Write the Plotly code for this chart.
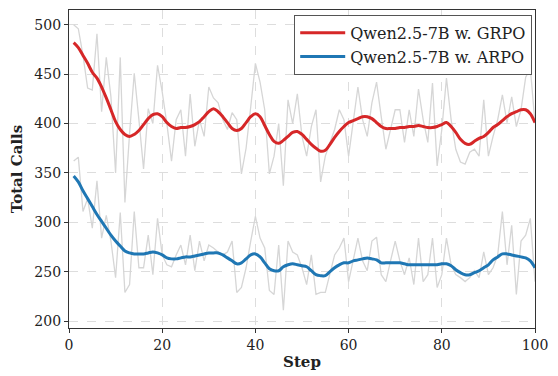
import plotly.graph_objects as go

steps = list(range(1, 101))

grpo_raw = [500, 496, 469, 436, 434, 491, 412, 467, 427, 350,
            467, 320, 390, 451, 404, 354, 415, 400, 459, 432,
            400, 362, 404, 414, 367, 430, 377, 404, 387, 437,
            426, 421, 404, 394, 411, 404, 349, 375, 417, 461,
            442, 414, 349, 367, 400, 337, 424, 400, 430, 387,
            367, 397, 414, 341, 367, 381, 394, 414, 404, 367,
            404, 437, 404, 387, 421, 442, 407, 374, 394, 414,
            414, 381, 414, 387, 435, 404, 381, 441, 357, 394,
            446, 404, 374, 361, 359, 371, 374, 367, 424, 367,
            387, 404, 429, 401, 427, 397, 414, 447, 456, 400]

arpo_raw = [362, 366, 311, 324, 294, 342, 284, 307, 281, 244,
            310, 229, 237, 311, 254, 254, 287, 247, 304, 267,
            257, 255, 267, 277, 257, 287, 251, 281, 261, 277,
            274, 270, 267, 270, 281, 229, 234, 254, 281, 306,
            284, 274, 231, 227, 277, 211, 281, 270, 267, 254,
            237, 267, 227, 229, 229, 247, 267, 274, 284, 240,
            261, 284, 261, 251, 281, 285, 247, 240, 261, 281,
            261, 247, 264, 237, 284, 240, 247, 284, 234, 247,
            284, 257, 247, 244, 240, 244, 251, 244, 270, 247,
            254, 267, 311, 257, 297, 227, 281, 287, 304, 240]

grpo_smooth = [482, 477, 469, 461, 452, 446, 437, 426, 414, 402,
               394, 389, 387, 389, 393, 399, 405, 409, 410, 407,
               401, 397, 395, 396, 396, 397, 399, 402, 407, 412,
               415, 412, 407, 401, 395, 393, 395, 401, 407, 410,
               407, 398, 389, 382, 380, 383, 387, 391, 392, 389,
               384, 379, 375, 372, 373, 379, 386, 392, 397, 401,
               403, 405, 407, 407, 405, 401, 397, 395, 395, 395,
               396, 396, 397, 397, 398, 397, 396, 396, 397, 399,
               401, 397, 391, 384, 380, 379, 382, 385, 387, 391,
               396, 399, 403, 407, 410, 412, 414, 414, 410, 401]

arpo_smooth = [347, 341, 332, 324, 316, 308, 301, 294, 287, 281,
               276, 271, 269, 268, 268, 268, 269, 270, 269, 267,
               264, 263, 263, 264, 265, 265, 266, 267, 268, 269,
               269, 269, 267, 264, 261, 258, 259, 263, 267, 268,
               265, 259, 253, 251, 251, 255, 257, 258, 257, 256,
               255, 251, 247, 246, 246, 250, 254, 257, 259, 259,
               261, 262, 263, 264, 263, 262, 259, 259, 259, 259,
               259, 258, 257, 257, 257, 257, 257, 257, 257, 258,
               258, 256, 252, 249, 247, 247, 249, 251, 254, 257,
               262, 265, 268, 268, 267, 266, 265, 264, 261, 254]

x_ticks = [0, 20, 40, 60, 80, 100]
y_ticks = [200, 250, 300, 350, 400, 450, 500]

RED = "#d62728"
BLUE = "#1f77b4"
GRAY = "#d6d6d6"
FONT = "DejaVu Serif"

fig = go.Figure()
fig.add_trace(go.Scatter(x=steps, y=grpo_raw, mode="lines",
                         line=dict(color=GRAY, width=1.3), showlegend=False, hoverinfo="skip"))
fig.add_trace(go.Scatter(x=steps, y=arpo_raw, mode="lines",
                         line=dict(color=GRAY, width=1.3), showlegend=False, hoverinfo="skip"))
fig.add_trace(go.Scatter(x=steps, y=grpo_smooth, mode="lines", name="Qwen2.5-7B w. GRPO",
                         line=dict(color=RED, width=3, shape="spline")))
fig.add_trace(go.Scatter(x=steps, y=arpo_smooth, mode="lines", name="Qwen2.5-7B w. ARPO",
                         line=dict(color=BLUE, width=3, shape="spline")))

axis_common = dict(
    showline=True, linecolor="#333333", linewidth=1.2, mirror=True,
    ticks="outside", ticklen=4, tickcolor="#333333",
    showgrid=True, gridcolor="#dddddd", griddash="dash", gridwidth=1,
    zeroline=False, tickfont=dict(family=FONT, size=14, color="#222222"),
)

fig.update_layout(
    width=558, height=376,
    margin=dict(l=69, r=23, t=9, b=46),
    paper_bgcolor="white", plot_bgcolor="white",
    font=dict(family=FONT, color="#222222"),
    xaxis=dict(range=[0, 100], tickvals=x_ticks,
               title=dict(text="<b>Step</b>", font=dict(family=FONT, size=15), standoff=4),
               **axis_common),
    yaxis=dict(range=[193, 515], tickvals=y_ticks,
               title=dict(text="<b>Total Calls</b>", font=dict(family=FONT, size=15), standoff=8),
               **axis_common),
    legend=dict(x=0.994, y=0.985, xanchor="right", yanchor="top",
                bgcolor="white", bordercolor="#555555", borderwidth=1,
                font=dict(family=FONT, size=16, color="#222222"),
                itemwidth=45, tracegroupgap=0),
)

fig.write_html("out.html", config={"displayModeBar": False},
               post_script="document.body.style.margin='0';")
